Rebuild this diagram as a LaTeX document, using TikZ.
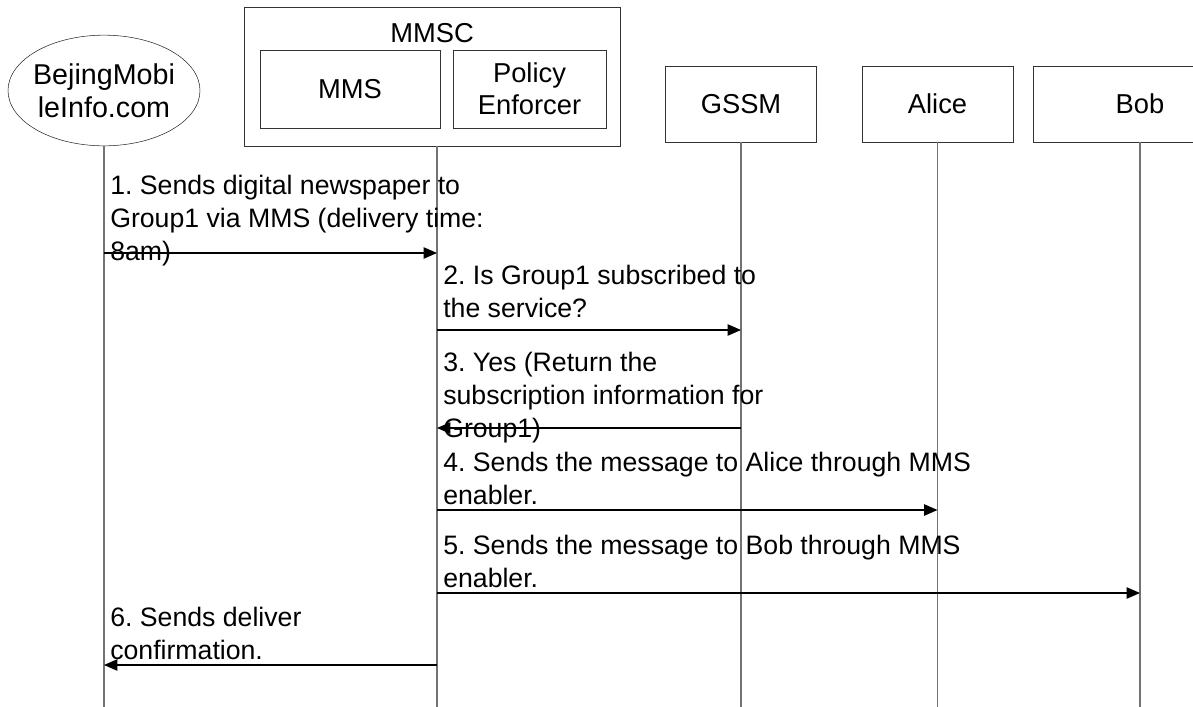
\documentclass[tikz,border=0pt]{standalone}
\usepackage{fontspec}
\setmainfont{Liberation Sans}
\frenchspacing
\usetikzlibrary{shapes.geometric, arrows.meta, positioning}
\tikzstyle{boxEntity} = [rectangle, draw=black!80, fill=white, text centered, align=center, inner sep=0pt, font=\fontsize{20.5}{24}\selectfont]
\tikzstyle{ovalEntity} = [ellipse, draw=black!85, fill=white, text centered, align=center, inner xsep=-4pt, inner ysep=0pt, minimum width=144pt, minimum height=83pt, font=\fontsize{21.5}{25}\selectfont]
\tikzstyle{lifeline} = [draw=black!55, line width=1pt]
\tikzstyle{arrow} = [line width=0.9pt, -{Triangle[length=10pt, width=8.5pt]}]
\tikzstyle{msgText} = [anchor=north west, align=left, inner sep=0pt, font=\fontsize{20}{24.75}\selectfont]

\begin{document}
\begin{tikzpicture}[x=0.75pt, y=-0.75pt]
\useasboundingbox (0,0) rectangle (1193,707);

% entities
\node (bejing) [ovalEntity] at (104,90.5) {BejingMobi\\leInfo.com};

\node (mmsc) [boxEntity, minimum width=282pt, minimum height=104.25pt] at (432,77) {};
\node (mmscTitle) [font=\fontsize{20.5}{24}\selectfont, inner sep=0pt] at (432,33) {MMSC};
\node (mms) [boxEntity, minimum width=135pt, minimum height=58.5pt] at (350,89) {MMS};
\node (policy) [boxEntity, minimum width=114.75pt, minimum height=58.5pt] at (529.5,89) {Policy\\Enforcer};

\node (gssm) [boxEntity, minimum width=113pt, minimum height=57pt] at (741,104) {GSSM};
\node (alice) [boxEntity, minimum width=113pt, minimum height=57pt] at (937.5,104) {Alice};
\node (bob) [boxEntity, minimum width=160pt, minimum height=57pt] at (1140,104) {Bob};

% lifelines
\coordinate (mmscL) at (437,146);
\coordinate (bottom) at (0,707);
\draw[lifeline] (bejing.south) -- (bejing.south |- bottom);
\draw[lifeline] (mmscL) -- (mmscL |- bottom);
\draw[lifeline] (gssm.south) -- (gssm.south |- bottom);
\draw[lifeline] (alice.south) -- (alice.south |- bottom);
\draw[lifeline] (bob.south) -- (bob.south |- bottom);

% messages
\coordinate (m1) at (0,253);
\coordinate (m2) at (0,330);
\coordinate (m3) at (0,428);
\coordinate (m4) at (0,510);
\coordinate (m5) at (0,593);
\coordinate (m6) at (0,665);

\node (t1) [msgText] at (110,175) {1. Sends digital newspaper to\\Group1 via MMS (delivery time:\\8am)};
\node (t2) [msgText] at (443,265) {2. Is Group1 subscribed to\\the service?};
\node (t3) [msgText] at (443,352) {3. Yes (Return the\\subscription information for\\Group1)};
\node (t4) [msgText] at (443,452) {4. Sends the message to Alice through MMS\\enabler.};
\node (t5) [msgText] at (443,535) {5. Sends the message to Bob through MMS\\enabler.};
\node (t6) [msgText] at (110,607) {6. Sends deliver\\confirmation.};

\draw[arrow] (bejing.south |- m1) -- (mmscL |- m1);
\draw[arrow] (mmscL |- m2) -- (gssm.south |- m2);
\draw[arrow] (gssm.south |- m3) -- (mmscL |- m3);
\draw[arrow] (mmscL |- m4) -- (alice.south |- m4);
\draw[arrow] (mmscL |- m5) -- (bob.south |- m5);
\draw[arrow] (mmscL |- m6) -- (bejing.south |- m6);

\end{tikzpicture}
\end{document}
